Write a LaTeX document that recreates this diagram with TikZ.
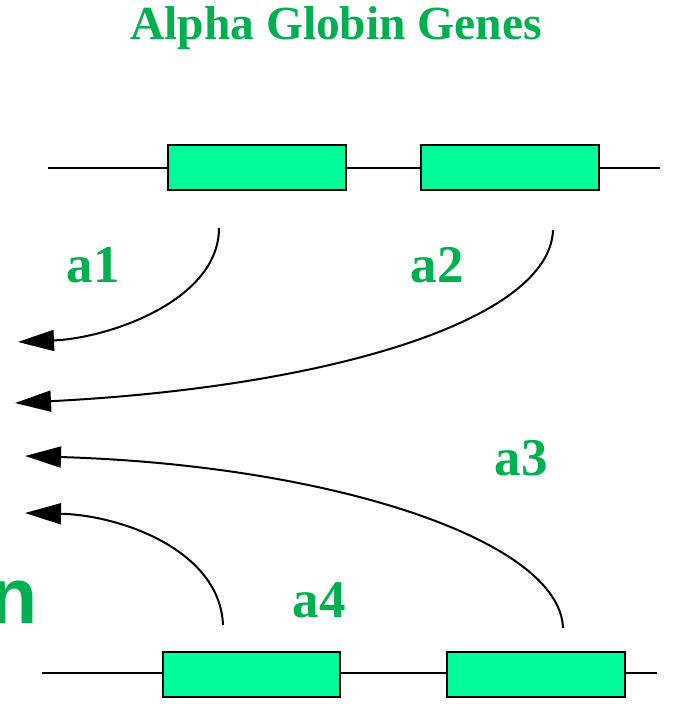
\documentclass[tikz,border=0pt]{standalone}
\usepackage{fontspec}
\setmainfont{Liberation Serif}
\newfontfamily\sansfnt{Liberation Sans}
\usetikzlibrary{arrows.meta}
\definecolor{titlegreen}{RGB}{0,176,80}
\definecolor{genefill}{RGB}{0,252,152}
\tikzset{
  gene/.style={draw=black, line width=2.6pt, fill=genefill},
  chromo/.style={draw=black, line width=2.6pt},
  flow/.style={draw=black, line width=2pt, -{Triangle[length=36pt,width=21pt]}},
  lbl/.style={text=titlegreen, font=\bfseries\fontsize{53}{60}\selectfont, inner sep=0pt, anchor=base},
}
\begin{document}
\begin{tikzpicture}[x=1pt,y=1pt]
\useasboundingbox (0,0) rectangle (679,-707);
\clip (0,0) rectangle (679,-707);
% title
\node[text=titlegreen, font=\bfseries\fontsize{47.5}{55}\selectfont, inner sep=0pt, anchor=base] (title) at (336,-39) {Alpha Globin Genes};
% top chromosome
\coordinate (tl) at (48,-168);
\coordinate (tr) at (660,-168);
\draw[chromo] (tl) -- (tr);
\path[gene] (168,-145) rectangle (346,-190);
\path[gene] (421,-145) rectangle (599,-190);
% bottom chromosome
\coordinate (bl) at (42,-673);
\coordinate (br) at (657,-673);
\draw[chromo] (bl) -- (br);
\path[gene] (163,-652) rectangle (340,-697);
\path[gene] (447,-652) rectangle (625,-697);
% arrow end points
\coordinate (s1) at (219,-228);
\coordinate (t1) at (18,-342);
\coordinate (s2) at (553,-230);
\coordinate (t2) at (15,-403);
\coordinate (s3) at (563,-628);
\coordinate (t3) at (25,-456);
\coordinate (s4) at (223,-625);
\coordinate (t4) at (25,-513);
\draw[flow] (s1) .. controls (219,-300) and (110,-338) .. (t1);
\draw[flow] (s2) .. controls (550,-320) and (330,-387) .. (t2);
\draw[flow] (s3) .. controls (560,-540) and (330,-465) .. (t3);
\draw[flow] (s4) .. controls (220,-550) and (120,-515) .. (t4);
% labels
\node[lbl] (a1) at (93,-282) {a1};
\node[lbl] (a2) at (437,-282) {a2};
\node[lbl] (a3) at (521,-475) {a3};
\node[lbl] (a4) at (319,-617) {a4};
% cut-off letter
\node[text=titlegreen, font=\sansfnt\bfseries\fontsize{79}{90}\selectfont, inner sep=0pt, anchor=base west] (cut) at (-10.3,-623) {n};
\end{tikzpicture}
\end{document}
